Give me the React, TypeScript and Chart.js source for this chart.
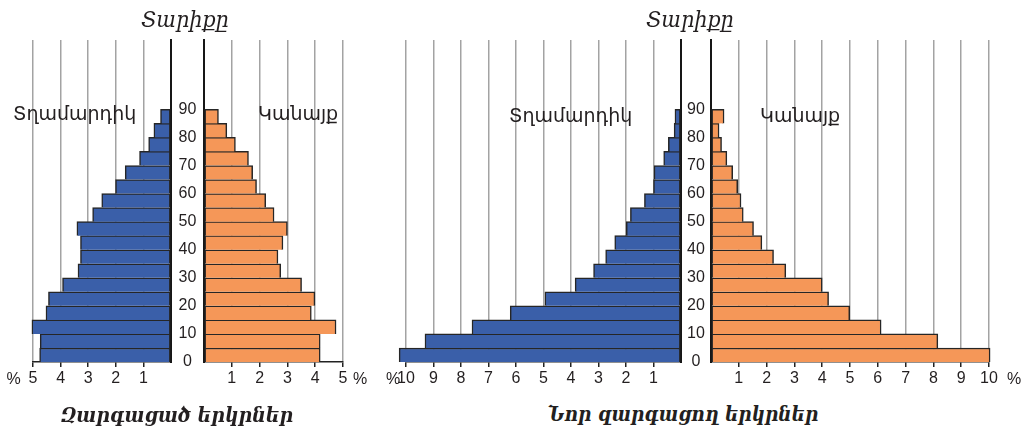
import React, { useEffect, useRef } from 'react';
import { Chart, registerables } from 'chart.js';

Chart.register(...registerables);

// Age groups (start of each 5-year band), bottom to top
const AGE_STARTS = [0, 5, 10, 15, 20, 25, 30, 35, 40, 45, 50, 55, 60, 65, 70, 75, 80, 85];
const AGE_TICKS = [0, 10, 20, 30, 40, 50, 60, 70, 80, 90];
const Y_MAX = 114.7;

// Developed countries (%), age 0 upwards
const DEV_MALE = [4.76, 4.74, 5.04, 4.53, 4.44, 3.93, 3.37, 3.28, 3.28, 3.41, 2.84, 2.51, 2.01, 1.66, 1.14, 0.81, 0.62, 0.38];
const DEV_FEMALE = [4.18, 4.18, 4.75, 3.86, 3.99, 3.51, 2.76, 2.66, 2.84, 3.0, 2.52, 2.22, 1.89, 1.75, 1.6, 1.13, 0.82, 0.52];
// Developing countries (%), age 0 upwards
const NEW_MALE = [10.25, 9.31, 7.6, 6.21, 4.95, 3.85, 3.18, 2.74, 2.41, 1.99, 1.84, 1.33, 1.0, 0.98, 0.63, 0.46, 0.25, 0.22];
const NEW_FEMALE = [10.04, 8.16, 6.12, 4.99, 4.23, 4.0, 2.69, 2.25, 1.83, 1.53, 1.16, 1.08, 0.96, 0.78, 0.57, 0.38, 0.29, 0.47];

const DEV_X_MAX = 5;
const NEW_X_MAX = 10;

const TITLE_AGE = 'Տարիքը';
const LABEL_MALE = 'Տղամարդիկ';
const LABEL_FEMALE = 'Կանայք';
const CAPTION_DEV = 'Զարգացած երկրներ';
const CAPTION_NEW = 'Նոր զարգացող երկրներ';

const BLUE = '#3a5fa9';
const ORANGE = '#f59758';
const EDGE = '#262626';
const GRID = '#a3a3a3';
const TEXT = '#231f20';
const SANS = '"Liberation Sans", Arial, "DejaVu Sans", sans-serif';

type PanelProps = {
  values: number[];
  xMax: number;
  male: boolean;
  color: string;
  left: number;
  width: number;
  padLeft: number;
  padRight: number;
  axisWidth: number;
  labelPad: number;
};

function Panel(p: PanelProps) {
  const ref = useRef<HTMLCanvasElement | null>(null);
  useEffect(() => {
    if (!ref.current) return;
    const chart = new Chart(ref.current, {
      type: 'bar',
      data: {
        datasets: [
          {
            data: p.values.map((v, i) => ({ x: v, y: AGE_STARTS[i] + 2.5 })),
            backgroundColor: p.color,
            borderColor: EDGE,
            borderWidth: { top: 1.5, bottom: 0, left: 1.5, right: 1.5 },
            borderSkipped: false,
            barPercentage: 1,
            categoryPercentage: 1,
            clip: false,
          } as any,
        ],
      },
      options: {
        indexAxis: 'y',
        responsive: false,
        animation: false,
        layout: { padding: { left: p.padLeft, right: p.padRight, top: 40, bottom: 0 } },
        plugins: { legend: { display: false }, tooltip: { enabled: false } },
        scales: {
          x: {
            type: 'linear',
            position: 'bottom',
            reverse: p.male,
            min: 0,
            max: p.xMax,
            offset: false,
            afterFit: (s: any) => {
              s.height = 38;
            },
            ticks: {
              stepSize: 1,
              autoSkip: false,
              maxRotation: 0,
              padding: 2,
              color: TEXT,
              font: { family: SANS, size: 16 },
              callback: (v: any) => (v === 0 ? '' : String(v)),
            },
            grid: {
              offset: false,
              color: (c: any) => (c.tick && c.tick.value === 0 ? 'rgba(0,0,0,0)' : GRID),
              lineWidth: 1.5,
              tickColor: (c: any) => (c.tick && c.tick.value === 0 ? 'rgba(0,0,0,0)' : '#222'),
              tickLength: 5,
              tickWidth: 1.5,
            },
            border: { display: true, color: '#222', width: 1.5 },
          },
          y: {
            type: 'linear',
            position: p.male ? 'right' : 'left',
            min: 0,
            max: Y_MAX,
            offset: false,
            afterBuildTicks: (s: any) => {
              s.ticks = AGE_TICKS.map((v) => ({ value: v }));
            },
            afterFit: (s: any) => {
              s.width = p.axisWidth;
            },
            ticks: {
              display: p.male,
              crossAlign: 'center',
              padding: p.labelPad,
              color: TEXT,
              font: { family: SANS, size: 16 },
            },
            grid: { display: false, drawTicks: false, offset: false },
            border: { display: true, color: '#161616', width: 2 },
          },
        },
      } as any,
    });
    return () => chart.destroy();
  }, []);
  return (
    <canvas
      ref={ref}
      width={p.width}
      height={400}
      style={{ position: 'absolute', left: p.left, top: 0, width: p.width, height: 400 }}
    />
  );
}

function Txt(props: { x: number; y: number; text: string; style: React.CSSProperties; anchor?: 'left' | 'center' }) {
  const tx = props.anchor === 'left' ? '0' : '-50%';
  return (
    <div
      style={{
        position: 'absolute',
        left: props.x,
        top: props.y,
        transform: `translate(${tx}, -50%)`,
        whiteSpace: 'nowrap',
        lineHeight: 1,
        color: TEXT,
        ...props.style,
      }}
    >
      {props.text}
    </div>
  );
}

export default function App() {
  const titleStyle: React.CSSProperties = {
    fontFamily: '"DejaVu Serif Condensed", "DejaVu Serif", serif',
    fontStyle: 'italic',
    fontSize: 23,
  };
  const captionStyle: React.CSSProperties = {
    fontFamily: '"DejaVu Serif Condensed", "DejaVu Serif", serif',
    fontStyle: 'italic',
    fontWeight: 'bold',
    fontSize: 21,
  };
  const innerStyle: React.CSSProperties = { fontFamily: '"DejaVu Sans", sans-serif', fontSize: 19 };
  const pctStyle: React.CSSProperties = { fontFamily: SANS, fontSize: 16 };
  return (
    <div
      style={{
        position: 'absolute',
        left: 0,
        top: 0,
        width: 1028,
        height: 434,
        background: '#fff',
        overflow: 'hidden',
      }}
    >
      <Panel values={DEV_MALE} xMax={DEV_X_MAX} male color={BLUE} left={0} width={204} padLeft={33} padRight={0} axisWidth={33} labelPad={7.6} />
      <Panel values={DEV_FEMALE} xMax={DEV_X_MAX} male={false} color={ORANGE} left={194} width={170} padLeft={10} padRight={21} axisWidth={0} labelPad={0} />
      <Panel values={NEW_MALE} xMax={NEW_X_MAX} male color={BLUE} left={385} width={326} padLeft={21} padRight={0} axisWidth={30} labelPad={6.1} />
      <Panel values={NEW_FEMALE} xMax={NEW_X_MAX} male={false} color={ORANGE} left={701} width={310} padLeft={10} padRight={22} axisWidth={0} labelPad={0} />

      <Txt x={185} y={19} text={TITLE_AGE} style={titleStyle} />
      <Txt x={690} y={19} text={TITLE_AGE} style={titleStyle} />

      <Txt x={13} y={113} text={LABEL_MALE} style={innerStyle} anchor="left" />
      <Txt x={258} y={113} text={LABEL_FEMALE} style={innerStyle} anchor="left" />
      <Txt x={509} y={115} text={LABEL_MALE} style={innerStyle} anchor="left" />
      <Txt x={760} y={115} text={LABEL_FEMALE} style={innerStyle} anchor="left" />

      <Txt x={13.5} y={379} text="%" style={pctStyle} />
      <Txt x={360} y={379} text="%" style={pctStyle} />
      <Txt x={393} y={379} text="%" style={pctStyle} />
      <Txt x={1014} y={379} text="%" style={pctStyle} />

      <Txt x={177} y={414} text={CAPTION_DEV} style={captionStyle} />
      <Txt x={683} y={414} text={CAPTION_NEW} style={{ ...captionStyle, fontSize: 20.5 }} />
    </div>
  );
}
